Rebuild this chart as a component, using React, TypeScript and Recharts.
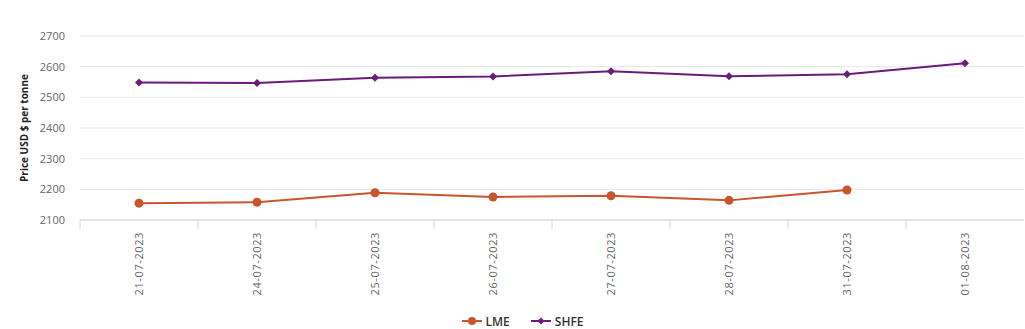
import { LineChart, Line, XAxis, YAxis, CartesianGrid, Legend } from 'recharts'

const dates = [
  '21-07-2023',
  '24-07-2023',
  '25-07-2023',
  '26-07-2023',
  '27-07-2023',
  '28-07-2023',
  '31-07-2023',
  '01-08-2023',
]
const lmeValues: (number | null)[] = [2155, 2158, 2189, 2175, 2179, 2164, 2198, null]
const shfeValues = [2548, 2547, 2564, 2568, 2585, 2569, 2575, 2611]
const yTicks = [2100, 2200, 2300, 2400, 2500, 2600, 2700]

const LME_COLOR = '#c8552d'
const SHFE_COLOR = '#6b1b7b'
const FONT = '"Open Sans", "DejaVu Sans", sans-serif'

const data = dates.map((date, i) => ({
  date,
  LME: lmeValues[i],
  SHFE: shfeValues[i],
}))

// band-boundary ticks + rotated label, like the original
function DateTick(props: any) {
  const { x, y, payload } = props
  const off = payload.offset ?? 0
  return (
    <g>
      <line x1={x - off} y1={y - 8} x2={x - off} y2={y + 1} stroke="#ccd6eb" />
      <text
        x={0}
        y={0}
        transform={`translate(${x + 4},${y + 4}) rotate(-90)`}
        textAnchor="end"
        fill="#666666"
        fontSize={11}
        fontFamily={FONT}
        letterSpacing={0.6}
      >
        {payload.value}
      </text>
    </g>
  )
}

function DiamondDot(props: any) {
  const { cx, cy } = props
  if (cx == null || cy == null) return null
  const s = 4
  return (
    <path
      d={`M${cx},${cy - s} L${cx + s},${cy} L${cx},${cy + s} L${cx - s},${cy} Z`}
      fill={SHFE_COLOR}
    />
  )
}

function YLabel(props: any) {
  const vb = props.viewBox || {}
  const cy = (vb.y ?? 0) + (vb.height ?? 0) / 2
  return (
    <text
      x={0}
      y={0}
      transform={`translate(28,${cy}) rotate(-90)`}
      textAnchor="middle"
      fontSize={10}
      fontWeight="bold"
      fill="#222"
      fontFamily={FONT}
    >
      Price USD $ per tonne
    </text>
  )
}

function LegendContent() {
  const item = (name: string, color: string, diamond: boolean) => (
    <div style={{ display: 'flex', alignItems: 'center', margin: '0 10px' }}>
      <svg width={22} height={12}>
        <line x1={1} y1={6} x2={21} y2={6} stroke={color} strokeWidth={2} />
        {diamond ? (
          <path d="M11,2.5 L14.5,6 L11,9.5 L7.5,6 Z" fill={color} />
        ) : (
          <circle cx={11} cy={6} r={4} fill={color} />
        )}
      </svg>
      <span style={{ marginLeft: 3, fontSize: 12, color: '#333', fontWeight: 600 }}>{name}</span>
    </div>
  )
  return (
    <div
      style={{
        display: 'flex',
        justifyContent: 'center',
        fontFamily: FONT,
        height: 20,
        alignItems: 'center',
        paddingLeft: 0,
        paddingTop: 6,
      }}
    >
      {item('LME', LME_COLOR, false)}
      {item('SHFE', SHFE_COLOR, true)}
    </div>
  )
}

export default function App() {
  return (
    <div style={{ position: 'absolute', left: 0, top: 0, width: 1025, height: 329, background: '#fff' }}>
      <LineChart
        width={1025}
        height={329}
        data={data}
        margin={{ top: 36, right: 1, bottom: 0, left: 20 }}
      >
        <CartesianGrid vertical={false} stroke="#e6e6e6" />
        <XAxis
          dataKey="date"
          scale="band"
          height={85}
          axisLine={{ stroke: '#ccd6eb' }}
          tickLine={false}
          tick={<DateTick />}
          interval={0}
        />
        <YAxis
          domain={[2100, 2700]}
          ticks={yTicks}
          width={60}
          axisLine={false}
          tickLine={false}
          tickSize={6}
          tickMargin={9}
          tick={{ fill: '#666666', fontSize: 11, fontFamily: FONT }}
          label={<YLabel />}
        />
        <Legend verticalAlign="bottom" height={24} content={<LegendContent />} />
        <Line
          dataKey="LME"
          stroke={LME_COLOR}
          strokeWidth={2}
          dot={{ r: 4.5, fill: LME_COLOR, stroke: LME_COLOR, strokeWidth: 0 }}
          activeDot={false}
          isAnimationActive={false}
        />
        <Line
          dataKey="SHFE"
          stroke={SHFE_COLOR}
          strokeWidth={2}
          dot={<DiamondDot />}
          activeDot={false}
          isAnimationActive={false}
        />
      </LineChart>
    </div>
  )
}
